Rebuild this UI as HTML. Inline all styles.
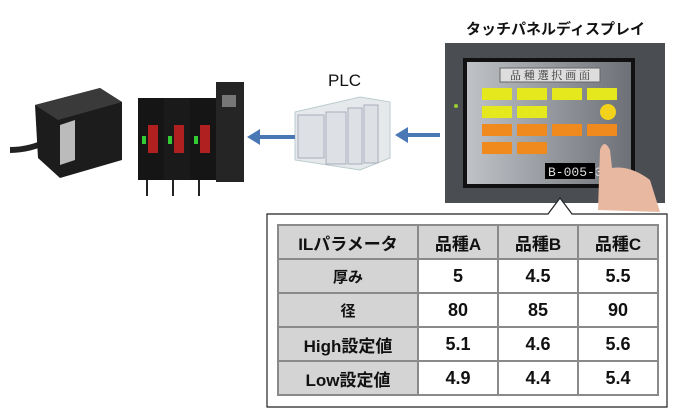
<!DOCTYPE html>
<html><head><meta charset="utf-8"><style>
body{margin:0;width:680px;height:420px;background:#fff;position:relative;overflow:hidden;font-family:"Liberation Sans","Noto Sans CJK JP",sans-serif}
.abs{position:absolute}
table{border-collapse:collapse;position:absolute;left:277px;top:224px}
td{border:2px solid #8a8a8a;height:32px;text-align:center;font-weight:bold;font-size:18px;color:#111;padding:0}
td.h{background:#d4d4d4}
</style></head><body>
<svg class="abs" style="left:0;top:0" width="680" height="420">
<path d="M10 150 Q30 150 50 140" stroke="#222" stroke-width="6" fill="none"/>
<polygon points="35,105 100,88 122,102 122,160 60,178 38,158" fill="#1c1c1c"/>
<polygon points="35,105 100,88 122,102 58,120" fill="#3a3a3a"/>
<polygon points="60,125 75,120 75,160 60,165" fill="#bbb"/>
<rect x="138" y="98" width="26" height="82" fill="#151515"/>
<rect x="164" y="98" width="26" height="82" fill="#1a1a1a"/>
<rect x="190" y="98" width="26" height="82" fill="#151515"/>
<rect x="216" y="82" width="28" height="100" fill="#252525"/>
<rect x="222" y="95" width="14" height="12" fill="#777"/>
<rect x="148" y="125" width="10" height="28" fill="#b02020"/>
<rect x="174" y="125" width="10" height="28" fill="#b02020"/>
<rect x="200" y="125" width="10" height="28" fill="#b02020"/>
<rect x="142" y="136" width="4" height="8" fill="#3c3"/><rect x="168" y="136" width="4" height="8" fill="#3c3"/><rect x="194" y="136" width="4" height="8" fill="#3c3"/>
<line x1="147" y1="180" x2="147" y2="196" stroke="#222" stroke-width="2"/><line x1="173" y1="180" x2="173" y2="196" stroke="#222" stroke-width="2"/><line x1="199" y1="180" x2="199" y2="196" stroke="#222" stroke-width="2"/>
<polygon points="295,112 360,97 390,102 390,158 360,170 295,160" fill="#e6e9ec" stroke="#bcc" stroke-width="1"/>
<rect x="298" y="115" width="26" height="43" fill="#dde1e5" stroke="#aab"/>
<rect x="326" y="112" width="20" height="52" fill="#dde1e5" stroke="#aab"/>
<rect x="348" y="108" width="14" height="56" fill="#dde1e5" stroke="#aab"/>
<rect x="364" y="105" width="14" height="58" fill="#dde1e5" stroke="#aab"/>
<line x1="440" y1="135" x2="405" y2="135" stroke="#4a78b4" stroke-width="4"/>
<polygon points="395,135 408,127 408,143" fill="#4a78b4"/>
<line x1="295" y1="137" x2="258" y2="137" stroke="#4a78b4" stroke-width="4"/>
<polygon points="247,137 260,129 260,145" fill="#4a78b4"/>
<rect x="445" y="43" width="220" height="160" fill="#4a4d52"/>
<rect x="463" y="58" width="172" height="130" fill="#111"/>
<defs><linearGradient id="g" x1="0" y1="0" x2="1" y2="0"><stop offset="0" stop-color="#bfc3c7"/><stop offset="1" stop-color="#6d7177"/></linearGradient></defs>
<rect x="467" y="62" width="164" height="122" fill="url(#g)"/>
<rect x="500" y="68" width="100" height="14" fill="#ddd" stroke="#666"/>
<text x="550" y="79" font-size="11" text-anchor="middle" fill="#333" font-family="Noto Serif CJK SC,serif">品 種 選 択 画 面</text>
<g fill="#e6e81e"><rect x="482" y="88" width="30" height="12"/><rect x="517" y="88" width="30" height="12"/><rect x="552" y="88" width="30" height="12"/><rect x="587" y="88" width="30" height="12"/><rect x="482" y="106" width="30" height="12"/><rect x="517" y="106" width="30" height="12"/></g>
<g fill="#f08a1e"><rect x="482" y="124" width="30" height="12"/><rect x="517" y="124" width="30" height="12"/><rect x="552" y="124" width="30" height="12"/><rect x="587" y="124" width="30" height="12"/><rect x="482" y="142" width="30" height="12"/><rect x="517" y="142" width="30" height="12"/></g>
<circle cx="608" cy="112" r="8" fill="#f2d21a"/>
<rect x="545" y="163" width="50" height="16" fill="#000"/>
<text x="548" y="176" font-size="13" fill="#ddd" font-family="Liberation Mono,monospace">B-005-3</text>
<path d="M598 210 L600 150 Q604 138 610 150 L612 168 Q630 165 650 180 L660 212 Z" fill="#e8b8a0"/>
<circle cx="456" cy="106" r="2" fill="#9c3"/>
<path d="M267 214 L548 214 L560 198 L572 214 L667 214 L667 407 L267 407 Z" fill="#fff" stroke="#222" stroke-width="1.2"/>
</svg>
<div class="abs" style="left:466px;top:18px;font-weight:bold;font-size:15px;color:#111">タッチパネルディスプレイ</div>
<div class="abs" style="left:328px;top:71px;font-size:17px;color:#111">PLC</div>
<table>
<tr><td class="h" style="width:138px;font-size:17px">ILパラメータ</td><td class="h" style="width:78px;font-size:17px">品種A</td><td class="h" style="width:78px;font-size:17px">品種B</td><td class="h" style="width:78px;font-size:17px">品種C</td></tr>
<tr><td class="h" style="font-size:15px">厚み</td><td>5</td><td>4.5</td><td>5.5</td></tr>
<tr><td class="h" style="font-size:15px">径</td><td>80</td><td>85</td><td>90</td></tr>
<tr><td class="h" style="font-size:17px">High設定値</td><td>5.1</td><td>4.6</td><td>5.6</td></tr>
<tr><td class="h" style="font-size:17px">Low設定値</td><td>4.9</td><td>4.4</td><td>5.4</td></tr>
</table>
</body></html>
